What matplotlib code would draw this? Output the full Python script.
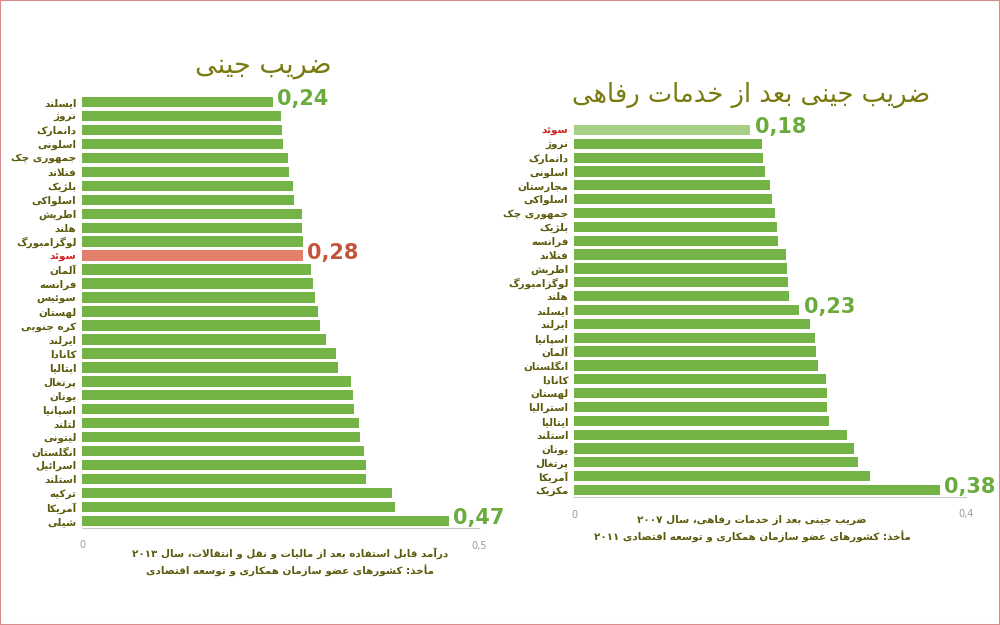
import matplotlib
matplotlib.use("Agg")
import matplotlib.pyplot as plt
from matplotlib.patches import Rectangle

# ---- داده‌ها ----
left_countries = ["ایسلند", "نروژ", "دانمارک", "اسلونی", "جمهوری چک", "فنلاند",
                  "بلژیک", "اسلواکی", "اطریش", "هلند", "لوگزامبورگ", "سوئد",
                  "آلمان", "فرانسه", "سوئیس", "لهستان", "کره جنوبی", "ایرلند",
                  "کانادا", "ایتالیا", "پرتغال", "یونان", "اسپانیا", "لتلند",
                  "لیتونی", "انگلستان", "اسرائیل", "استلند", "ترکیه", "آمریکا", "شیلی"]
left_values = [0.24, 0.25, 0.252, 0.253, 0.26, 0.261, 0.266, 0.267, 0.277, 0.277,
               0.278, 0.278, 0.289, 0.291, 0.293, 0.297, 0.30, 0.307, 0.320, 0.323,
               0.339, 0.341, 0.343, 0.349, 0.350, 0.355, 0.358, 0.358, 0.390, 0.394, 0.462]
left_labels = {0: "0,24", 11: "0,28", 30: "0,47"}

right_countries = ["سوئد", "نروژ", "دانمارک", "اسلونی", "مجارستان", "اسلواکی",
                   "جمهوری چک", "بلژیک", "فرانسه", "فنلاند", "اطریش", "لوگزامبورگ",
                   "هلند", "ایسلند", "ایرلند", "اسپانیا", "آلمان", "انگلستان", "کانادا",
                   "لهستان", "استرالیا", "ایتالیا", "استلند", "یونان", "پرتغال",
                   "آمریکا", "مکزیک"]
right_values = [0.180, 0.192, 0.193, 0.195, 0.200, 0.202, 0.205, 0.207, 0.208, 0.216,
                0.217, 0.218, 0.219, 0.230, 0.241, 0.246, 0.247, 0.249, 0.257, 0.258,
                0.258, 0.260, 0.279, 0.286, 0.290, 0.302, 0.373]
right_labels = {0: "0,18", 13: "0,23", 26: "0,38"}

left_title = "ضریب جینی"
right_title = "ضریب جینی بعد از خدمات رفاهی"
left_note = ["درآمد قابل استفاده بعد از مالیات و نقل و انتقالات، سال ۲۰۱۳",
             "مأخذ: کشورهای عضو سازمان همکاری و توسعه اقتصادی"]
right_note = ["ضریب جینی بعد از خدمات رفاهی، سال ۲۰۰۷",
              "مأخذ: کشورهای عضو سازمان همکاری و توسعه اقتصادی ۲۰۱۱"]

# ---- شکل‌دهی حروف فارسی (بدون کتابخانه خارجی) ----
FORMS = {
    "ا": (0xFE8D, 0xFE8E, None, None), "آ": (0xFE81, 0xFE82, None, None),
    "أ": (0xFE83, 0xFE84, None, None), "ب": (0xFE8F, 0xFE90, 0xFE91, 0xFE92),
    "پ": (0xFB56, 0xFB57, 0xFB58, 0xFB59), "ت": (0xFE95, 0xFE96, 0xFE97, 0xFE98),
    "ث": (0xFE99, 0xFE9A, 0xFE9B, 0xFE9C), "ج": (0xFE9D, 0xFE9E, 0xFE9F, 0xFEA0),
    "چ": (0xFB7A, 0xFB7B, 0xFB7C, 0xFB7D), "ح": (0xFEA1, 0xFEA2, 0xFEA3, 0xFEA4),
    "خ": (0xFEA5, 0xFEA6, 0xFEA7, 0xFEA8), "د": (0xFEA9, 0xFEAA, None, None),
    "ذ": (0xFEAB, 0xFEAC, None, None), "ر": (0xFEAD, 0xFEAE, None, None),
    "ز": (0xFEAF, 0xFEB0, None, None), "ژ": (0xFB8A, 0xFB8B, None, None),
    "س": (0xFEB1, 0xFEB2, 0xFEB3, 0xFEB4), "ش": (0xFEB5, 0xFEB6, 0xFEB7, 0xFEB8),
    "ص": (0xFEB9, 0xFEBA, 0xFEBB, 0xFEBC), "ض": (0xFEBD, 0xFEBE, 0xFEBF, 0xFEC0),
    "ط": (0xFEC1, 0xFEC2, 0xFEC3, 0xFEC4), "ظ": (0xFEC5, 0xFEC6, 0xFEC7, 0xFEC8),
    "ع": (0xFEC9, 0xFECA, 0xFECB, 0xFECC), "غ": (0xFECD, 0xFECE, 0xFECF, 0xFED0),
    "ف": (0xFED1, 0xFED2, 0xFED3, 0xFED4), "ق": (0xFED5, 0xFED6, 0xFED7, 0xFED8),
    "ک": (0xFB8E, 0xFB8F, 0xFB90, 0xFB91), "گ": (0xFB92, 0xFB93, 0xFB94, 0xFB95),
    "ل": (0xFEDD, 0xFEDE, 0xFEDF, 0xFEE0), "م": (0xFEE1, 0xFEE2, 0xFEE3, 0xFEE4),
    "ن": (0xFEE5, 0xFEE6, 0xFEE7, 0xFEE8), "و": (0xFEED, 0xFEEE, None, None),
    "ه": (0xFEE9, 0xFEEA, 0xFEEB, 0xFEEC), "ی": (0xFBFC, 0xFBFD, 0xFBFE, 0xFBFF),
    "ئ": (0xFE89, 0xFE8A, 0xFE8B, 0xFE8C),
}
LAM_ALEF = {"ا": (0xFEFB, 0xFEFC), "آ": (0xFEF5, 0xFEF6), "أ": (0xFEF7, 0xFEF8)}


def joins_forward(c):
    return c in FORMS and FORMS[c][2] is not None


def fa(text):
    chars = list(text)
    out = []
    i = 0
    while i < len(chars):
        c = chars[i]
        prev = chars[i - 1] if i > 0 else ""
        nxt = chars[i + 1] if i + 1 < len(chars) else ""
        if c not in FORMS:
            out.append(c)
            i += 1
            continue
        join_prev = joins_forward(prev)
        if c == "ل" and nxt in LAM_ALEF:
            iso, fin = LAM_ALEF[nxt]
            out.append(chr(fin if join_prev else iso))
            i += 2
            continue
        join_next = joins_forward(c) and nxt in FORMS
        iso, fin, ini, med = FORMS[c]
        if join_prev and join_next:
            code = med
        elif join_prev:
            code = fin
        elif join_next:
            code = ini
        else:
            code = iso
        out.append(chr(code))
        i += 1
    # ترتیب نمایشی: راست به چپ، اعداد چپ به راست
    runs = []
    for ch in out:
        ltr = ch.isdigit() or ch.isascii() and ch.isalnum()
        if runs and runs[-1][0] == ltr:
            runs[-1][1].append(ch)
        else:
            runs.append([ltr, [ch]])
    vis = ""
    for ltr, r in reversed(runs):
        vis += "".join(r) if ltr else "".join(reversed(r))
    return vis


# ---- رنگ‌ها ----
green = "#74b446"
label_col = "#5c5a0c"
title_col = "#7a7a12"
font = "DejaVu Sans"

fig = plt.figure(figsize=(10, 6.25), dpi=100)
fig.patches.append(Rectangle((0, 0), 1, 1, transform=fig.transFigure, fill=False,
                             edgecolor="#d98c8c", linewidth=1.5))


def panel(rect, countries, values, labels, xmax, xtick, highlight, hl_bar, hl_val):
    ax = fig.add_axes(rect)
    ypos = list(range(len(countries)))
    colors = [hl_bar if i == highlight else green for i in ypos]
    ax.barh(ypos, values, height=0.74, color=colors)
    ax.set_ylim(len(countries) - 0.5, -0.5)
    ax.set_xlim(0, xmax)
    ax.set_yticks(ypos)
    ax.set_yticklabels([fa(c) for c in countries], fontsize=7.5, fontweight="bold",
                       family=font)
    for i, t in enumerate(ax.get_yticklabels()):
        t.set_color("#d42020" if i == highlight else label_col)
    ax.tick_params(axis="y", length=0, pad=4)
    ax.set_xticks([0, xmax])
    ax.set_xticklabels(["0", xtick], fontsize=7, color="#9a9a9a")
    ax.tick_params(axis="x", length=0, pad=9)
    for s in ["top", "right", "left"]:
        ax.spines[s].set_visible(False)
    ax.spines["bottom"].set_color("#c8c8c8")
    ax.spines["bottom"].set_linewidth(0.8)
    for i, txt in labels.items():
        col = hl_val if i == highlight and hl_val else "#6aab3e"
        ax.annotate(txt, (values[i], i), xytext=(3, 2), textcoords="offset points",
                    ha="left", va="center", fontsize=15, fontweight="bold", color=col)
    return ax


axl = panel([0.082, 0.1552, 0.397, 0.6928], left_countries, left_values, left_labels,
            0.5, "0,5", 11, "#e47f6c", "#c4553d")
axr = panel([0.574, 0.2048, 0.392, 0.5984], right_countries, right_values, right_labels,
            0.4, "0,4", 0, "#a6d085", None)

fig.text(0.263, 0.895, fa(left_title), ha="center", va="center", fontsize=19.5,
         color=title_col, family=font)
fig.text(0.751, 0.848, fa(right_title), ha="center", va="center", fontsize=18.5,
         color=title_col, family=font)

fig.text(0.29, 0.115, fa(left_note[0]), ha="center", va="center", fontsize=7.5,
         fontweight="bold", color=label_col, family=font)
fig.text(0.29, 0.087, fa(left_note[1]), ha="center", va="center", fontsize=7.5,
         fontweight="bold", color=label_col, family=font)
fig.text(0.752, 0.168, fa(right_note[0]), ha="center", va="center", fontsize=7.5,
         fontweight="bold", color=label_col, family=font)
fig.text(0.752, 0.141, fa(right_note[1]), ha="center", va="center", fontsize=7.5,
         fontweight="bold", color=label_col, family=font)

fig.savefig("out.png", dpi=100)
